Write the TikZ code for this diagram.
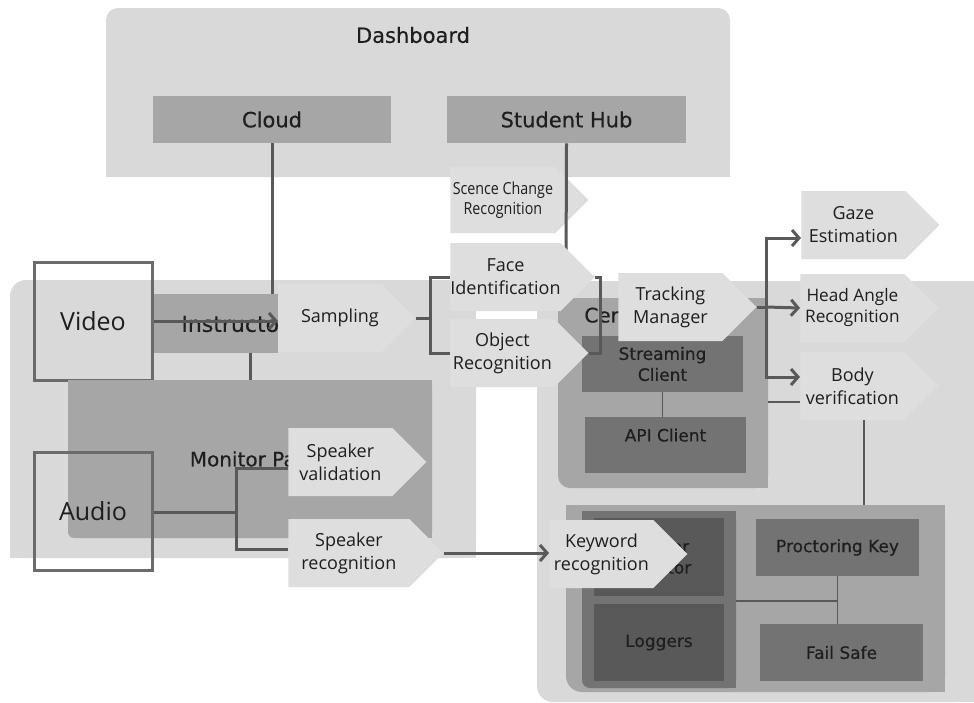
\documentclass[tikz,border=0pt]{standalone}
\usepackage{fontspec}
\usetikzlibrary{shapes.symbols,arrows.meta}
\newfontfamily\tagfont{Open Sans}
\newfontfamily\condfont[FakeStretch=0.86]{Open Sans}
\newfontfamily\boxfont[FakeBold=0.4]{DejaVu Sans}
\definecolor{panelgray}{HTML}{D9D9D9}
\definecolor{taggray}{HTML}{DEDEDE}
\definecolor{midgray}{HTML}{A6A6A6}
\definecolor{boxdark}{HTML}{737373}
\definecolor{boxdarker}{HTML}{595959}
\definecolor{linegray}{HTML}{595959}
\definecolor{framegray}{HTML}{6B6B6B}
\definecolor{inkgray}{HTML}{1E1E1E}
\tikzset{
  tagshape/.style={shape=signal, signal to=east, signal pointer angle=90, fill=taggray,
    inner sep=0pt, minimum height=34pt, minimum width=69pt, align=center, anchor=west,
    text=inkgray, font=\tagfont\fontsize{9}{11.5}\selectfont},
  boxlabel/.style={inner sep=0pt, text=inkgray, font=\boxfont\fontsize{10}{12}\selectfont},
  midbox/.style={boxlabel, fill=midgray, font=\boxfont\fontsize{10.5}{12}\selectfont},
  darkbox/.style={boxlabel, fill=boxdark, align=center, font=\boxfont\fontsize{8.5}{10.5}\selectfont},
  srcbox/.style={draw=framegray, line width=1.5pt, minimum size=59pt, inner sep=0pt,
    text=inkgray, font=\tagfont\fontsize{12.5}{14}\selectfont},
  link/.style={draw=linegray, line width=1.5pt},
  flow/.style={link, -{Straight Barb[length=3.5pt,width=8pt]}},
  thinlink/.style={draw=linegray, line width=0.9pt}
}
\begin{document}
\begin{tikzpicture}[x=0.5pt,y=-0.5pt]
\fill[white] (0,0) rectangle (974,702);
\useasboundingbox (0,0) rectangle (974,702);

% dashboard
\fill[panelgray, rounded corners=6pt] (106,8) rectangle (730,177);
\fill[panelgray] (106,100) rectangle (730,177);
\node[boxlabel, font=\boxfont\fontsize{10.5}{12}\selectfont] (dashtitle) at (413,35) {Dashboard};
\node[midbox, minimum width=119pt, minimum height=23.5pt] (cloud) at (272,119.5) {Cloud};
\node[midbox, minimum width=119.5pt, minimum height=23.5pt] (hub) at (566.5,119.5) {Student Hub};

% panels
\fill[panelgray, rounded corners=8pt] (10,280) rectangle (476,558);
\fill[panelgray] (10,330) rectangle (476,558);
\fill[panelgray] (100,280) rectangle (476,558);
\fill[panelgray, rounded corners=8pt] (537,281) rectangle (974,702);
\fill[panelgray] (537,281) rectangle (974,640);
\fill[panelgray] (600,281) rectangle (974,702);

\node[tagshape, minimum height=33pt, font=\condfont\fontsize{8.3}{9.8}\selectfont] (scene) at (450,200) {Scence Change\\Recognition};

% instructor side
\node[midbox, minimum width=62.5pt, minimum height=29.5pt] (instr) at (215.5,323.5) {};
\node[boxlabel, anchor=west, font=\boxfont\fontsize{11}{12}\selectfont] (instrlabel) at (181,324) {Instructor};
\draw[link] (cloud.south) -- (cloud.south |- instr.north);
\coordinate (hubfoot) at (566,277);
\draw[link] (hub.south) -- (hubfoot);
\node[tagshape, minimum width=68.5pt] (sampling) at (278,318) {\hspace*{10pt}Sampling};
\node[srcbox] (video) at (93,321) {Video};
\draw[flow] (video.east) -- (video.east -| sampling.west);

% monitor panel
\fill[midgray, rounded corners=3pt] (68,380) rectangle (432,538);
\fill[midgray] (68,380) rectangle (432,500);
\fill[midgray] (120,380) rectangle (432,538);
\coordinate (montop) at (250,380);
\draw[link] (instr.south -| montop) -- (montop);
\node[boxlabel] (monlabel) at (258,459) {Monitor Panel};
\node[tagshape] (spkval) at (288,462) {Speaker\\validation};
\node[tagshape, minimum width=77.5pt] (spkrec) at (288,553) {Speaker\\recognition};
\node[srcbox] (audio) at (93,511) {Audio};
\coordinate (asplit) at (236,512);
\draw[link] (audio.east |- asplit) -- (asplit);
\draw[link] ([yshift=-3pt]spkval.west) -| (asplit) |- ([yshift=2pt]spkrec.west);

% central server
\fill[midgray, rounded corners=6pt] (558,298) rectangle (768,488);
\fill[midgray] (700,298) rectangle (768,488);
\node[boxlabel, anchor=west] (cerlabel) at (584,315) {Central Server};
\node[darkbox, minimum width=80.5pt, minimum height=28pt] (stream) at (662.5,364) {Streaming\\Client};
\node[darkbox, minimum width=80.5pt, minimum height=28pt, text depth=10pt] (api) at (665.5,445) {API Client};
\draw[thinlink] (stream.south) -- (stream.south |- api.north);

\node[tagshape] (face) at (450,277) {Face\\Identification};
\node[tagshape] (object) at (450,353) {Object\\Recognition};
\coordinate (splitL) at (430,318);
\draw[link] (sampling.east) -- (splitL);
\draw[link] (face.west) -| (splitL) |- (object.west);
\draw[link] (face.east) -- ++(5,0) |- (object.east);
\node[tagshape] (tracking) at (618,307) {Tracking\\Manager};

% tracking outputs
\node[tagshape] (gaze) at (801,225) {Gaze\\Estimation};
\node[tagshape, font=\tagfont\fontsize{8.6}{10.5}\selectfont] (head) at (800,308) {Head Angle\\Recognition};
\node[tagshape] (body) at (800,386) {Body\\verification};
\coordinate (fork) at (766,307);
\draw[link] (tracking.east) -- (fork);
\draw[flow] (fork) |- ([yshift=-6.5pt]gaze.west);
\draw[flow] (fork) -- (head.west);
\draw[flow] (fork) |- ([yshift=4.5pt]body.west);
\coordinate (cerright) at (768,402);
\draw[thinlink] (cerright) -- (cerright -| body.west);

% proctoring block
\fill[midgray, rounded corners=8pt] (566,505) rectangle (945,692);
\fill[midgray] (566,505) rectangle (945,660);
\fill[midgray] (620,505) rectangle (945,692);
\fill[boxdark, rounded corners=4pt] (582,511) rectangle (736,688);
\fill[boxdark] (582,511) rectangle (736,670);
\fill[boxdark] (600,511) rectangle (736,688);
\coordinate (bodyfoot) at (864,420);
\draw[thinlink, line width=1.2pt] (bodyfoot) -- (bodyfoot |- 0,505);
\node[darkbox, fill=boxdarker, minimum width=65pt, minimum height=39pt] (monitor) at (659,557) {Proctor\\Monitor};
\node[darkbox, fill=boxdarker, minimum width=65pt, minimum height=38.5pt] (loggers) at (659,642.5) {Loggers};
\node[darkbox, minimum width=81.5pt, minimum height=28.5pt] (pkey) at (837.5,547.5) {Proctoring Key};
\node[darkbox, minimum width=81.5pt, minimum height=28.5pt] (failsafe) at (841.5,652.5) {Fail Safe};
\draw[thinlink] (pkey.south) -- (pkey.south |- failsafe.north);
\coordinate (innerright) at (736,601);
\draw[thinlink] (innerright) -- (innerright -| pkey.south);
\node[tagshape] (keyword) at (549,554) {Keyword\\recognition};
\draw[flow] (spkrec.east) -- (spkrec.east -| keyword.west);
\end{tikzpicture}
\end{document}
